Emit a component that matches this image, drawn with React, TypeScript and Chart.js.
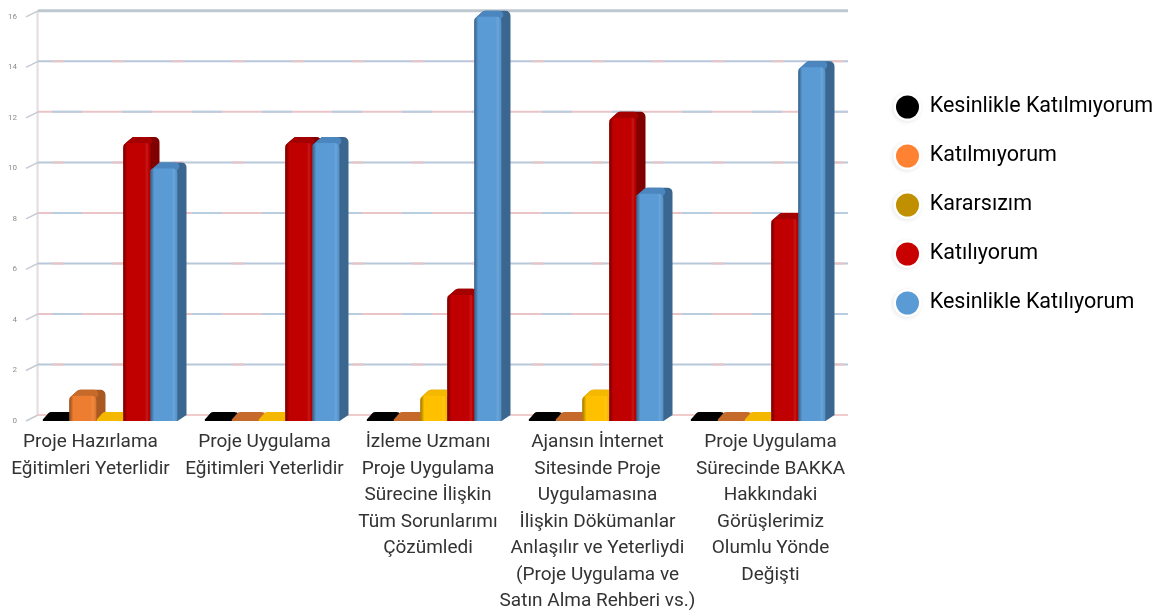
import React, { useEffect, useRef } from "react";
import { Chart, registerables } from "chart.js";

Chart.register(...registerables);

const categories: string[][] = [
  ["Proje Hazırlama", "Eğitimleri Yeterlidir"],
  ["Proje Uygulama", "Eğitimleri Yeterlidir"],
  ["İzleme Uzmanı", "Proje Uygulama", "Sürecine İlişkin", "Tüm Sorunlarımı", "Çözümledi"],
  ["Ajansın İnternet", "Sitesinde Proje", "Uygulamasına", "İlişkin Dökümanlar", "Anlaşılır ve Yeterliydi", "(Proje Uygulama ve", "Satın Alma Rehberi vs.)"],
  ["Proje Uygulama", "Sürecinde BAKKA", "Hakkındaki", "Görüşlerimiz", "Olumlu Yönde", "Değişti"],
];
const seriesNames = ["Kesinlikle Katılmıyorum", "Katılmıyorum", "Kararsızım", "Katılıyorum", "Kesinlikle Katılıyorum"];
const kesinlikleKatilmiyorum = [0, 0, 0, 0, 0];
const katilmiyorum = [1, 0, 0, 0, 0];
const kararsizim = [0, 0, 1, 1, 0];
const katiliyorum = [11, 11, 5, 12, 8];
const kesinlikleKatiliyorum = [10, 11, 16, 9, 14];
const seriesValues = [kesinlikleKatilmiyorum, katilmiyorum, kararsizim, katiliyorum, kesinlikleKatiliyorum];

const frontColors = ["#000000", "#ed7d31", "#ffc000", "#c00000", "#5b9bd5"];
const topColors = ["#000000", "#c56a2b", "#f5b800", "#a40000", "#4c86bf"];
const sideColors = ["#000000", "#a85a22", "#b38600", "#800000", "#3b668f"];
const legendColors = ["#000000", "#ff8233", "#c09000", "#c80000", "#5b9bd5"];
const labelShifts = [-19.5, -7.5, -6, 1.5, 12.5];

const FONT = "Roboto";
const DX = 9;
const DY = 6;
const LEG_PAD = 27.5;
const LEG_FONT = 21.5;
const LEG_BOX = 23;

function polyRound(ctx: CanvasRenderingContext2D, pts: number[][], radii: number[]) {
  ctx.beginPath();
  const n = pts.length;
  const last = pts[n - 1];
  ctx.moveTo((last[0] + pts[0][0]) / 2, (last[1] + pts[0][1]) / 2);
  for (let i = 0; i < n; i++) {
    const a = pts[i];
    const b = pts[(i + 1) % n];
    ctx.arcTo(a[0], a[1], (a[0] + b[0]) / 2, (a[1] + b[1]) / 2, radii[i]);
    ctx.lineTo((a[0] + b[0]) / 2, (a[1] + b[1]) / 2);
  }
  ctx.closePath();
}

const wallPlugin = {
  id: "wall",
  beforeLayout(chart: any) {
    const l = chart.legend;
    if (!l._fitPatched) {
      const fit = l.fit;
      l.fit = function () {
        fit.call(this);
        this.width = 330;
      };
      l._fitPatched = true;
    }
  },
  afterLayout(chart: any) {
    const l = chart.legend;
    const w = l.width;
    const h = l.height;
    l.left = 896 - LEG_PAD;
    l.right = l.left + w;
    l.top = 107 - LEG_PAD - LEG_FONT / 2;
    l.bottom = l.top + h;
  },
  beforeDraw(chart: any) {
    const { ctx, legend: l, scales, chartArea } = chart;
    // each category label sits a little away from its group
    scales.x.getLabelItems(chartArea).forEach((item: any, i: number) => {
      if (!item._shifted) {
        item.options.translation[0] += labelShifts[i];
        item._shifted = true;
      }
    });
    const stride = LEG_FONT + LEG_PAD;
    ctx.save();
    seriesNames.forEach((_, i) => {
      ctx.beginPath();
      ctx.arc(l.left + LEG_PAD + LEG_BOX / 2, l.top + LEG_PAD + LEG_FONT / 2 + i * stride, 14, 0, Math.PI * 2);
      ctx.shadowBlur = 4;
      ctx.shadowColor = "rgba(0,0,0,0.10)";
      ctx.shadowOffsetX = -1;
      ctx.shadowOffsetY = 1;
      ctx.fillStyle = "#ffffff";
      ctx.fill();
    });
    ctx.restore();
  },
  beforeDatasetsDraw(chart: any) {
    const { ctx, chartArea: a, scales } = chart;
    const y = scales.y;
    ctx.save();
    // left wall
    ctx.lineWidth = 1;
    ctx.strokeStyle = "#d8dde4";
    ctx.beginPath();
    ctx.moveTo(a.left + DX - 1, a.top - DY);
    ctx.lineTo(a.left + DX - 1, a.bottom - DY);
    ctx.stroke();
    ctx.strokeStyle = "#e6cdd2";
    ctx.beginPath();
    ctx.moveTo(a.left + DX, a.top - DY);
    ctx.lineTo(a.left + DX, a.bottom - DY);
    ctx.stroke();
    y.ticks.forEach((t: any, idx: number) => {
      const py = y.getPixelForValue(t.value);
      // stub
      ctx.setLineDash([]);
      ctx.strokeStyle = "#c3cad2";
      ctx.lineWidth = 1.5;
      ctx.beginPath();
      ctx.moveTo(a.left - 3, py);
      ctx.lineTo(a.left + DX, py - DY);
      ctx.stroke();
      const isTop = t.value === y.max;
      const isFloor = t.value === y.min;
      const back = py - DY;
      ctx.lineWidth = isTop ? 3 : 2;
      ctx.strokeStyle = isTop ? "#bfc8d0" : isFloor ? "#f2cccd" : idx % 2 === 0 ? "#eac4c6" : "#b8c8da";
      ctx.beginPath();
      ctx.moveTo(a.left + DX, back);
      ctx.lineTo(a.right + DX, back);
      ctx.stroke();
      if (!isTop && !isFloor) {
        ctx.strokeStyle = idx % 2 === 0 ? "#b9cde0" : "#e9c4c6";
        ctx.setLineDash(idx % 2 === 0 ? [30, 40] : [12, 48]);
        ctx.beginPath();
        ctx.moveTo(a.left + DX + 14, back);
        ctx.lineTo(a.right + DX, back);
        ctx.stroke();
        ctx.setLineDash([]);
      }
    });
    ctx.restore();
  },
  afterDatasetsDraw(chart: any) {
    const { ctx } = chart;
    ctx.save();
    chart.data.datasets.forEach((_: any, di: number) => {
      const meta = chart.getDatasetMeta(di);
      meta.data.forEach((bar: any) => {
        const p = bar.getProps(["x", "y", "width", "base"], true);
        const x0 = p.x - p.width / 2;
        const x1 = p.x + p.width / 2;
        const yb = p.base;
        const yt = p.y;
        if (yb - yt < 2) {
          // a zero value still shows a low rounded cap
          ctx.fillStyle = topColors[di];
          polyRound(
            ctx,
            [[x0 - 1, yb], [x0 + DX - 2, yb - 9], [x1 + DX, yb - 9], [x1 + DX, yb - DY], [x1, yb]],
            [1, 4, 6, 3, 0],
          );
          ctx.fill();
          return;
        }
        // silhouette of the depth in the side colour, the top face over it
        ctx.fillStyle = sideColors[di];
        polyRound(
          ctx,
          [[x0, yt + 2], [x0 + DX, yt - DY], [x1 + DX, yt - DY], [x1 + DX, yb - DY], [x1, yb], [x0, yb]],
          [2, 5, 5, 0, 0, 0],
        );
        ctx.fill();
        ctx.fillStyle = topColors[di];
        polyRound(
          ctx,
          [[x0, yt + 2], [x0 + DX, yt - DY], [x1 + DX - 3, yt - DY], [x1 - 1, yt + 3], [x0, yt + 3]],
          [2, 5, 4, 0, 0],
        );
        ctx.fill();
        bar.draw(ctx);
        // shading of the front
        const g = ctx.createLinearGradient(x0, 0, x1, 0);
        g.addColorStop(0, "rgba(0,0,0,0.38)");
        g.addColorStop(0.14, "rgba(0,0,0,0)");
        g.addColorStop(0.78, "rgba(255,255,255,0)");
        g.addColorStop(0.88, "rgba(255,255,255,0.10)");
        g.addColorStop(0.95, "rgba(0,0,0,0)");
        g.addColorStop(1, "rgba(0,0,0,0.16)");
        ctx.fillStyle = g;
        ctx.beginPath();
        ctx.roundRect(x0, yt, x1 - x0, yb - yt, [5, 5, 0, 0]);
        ctx.fill();
      });
    });
    ctx.restore();
  },
};

export default function App() {
  const ref = useRef<HTMLCanvasElement>(null);
  useEffect(() => {
    const chart = new Chart(ref.current as HTMLCanvasElement, {
      type: "bar",
      data: {
        labels: categories,
        datasets: seriesValues.map((values, i) => ({
          label: seriesNames[i],
          data: values,
          backgroundColor: frontColors[i],
          borderRadius: { topLeft: 5, topRight: 5, bottomLeft: 0, bottomRight: 0 },
          borderSkipped: false,
          barPercentage: 1,
          categoryPercentage: 135 / 162,
        })),
      },
      options: {
        responsive: false,
        animation: false,
        layout: { padding: { top: 15, left: 0, right: 0, bottom: 0 } },
        plugins: {
          title: { display: false },
          tooltip: { enabled: false },
          legend: {
            position: "right",
            align: "start",
            labels: {
              usePointStyle: true,
              pointStyle: "circle",
              pointStyleWidth: LEG_BOX,
              boxHeight: 16.3,
              padding: LEG_PAD,
              color: "#333333",
              font: { family: FONT, size: LEG_FONT },
              generateLabels: () =>
                seriesNames.map((text, i) => ({
                  text,
                  fillStyle: legendColors[i],
                  strokeStyle: legendColors[i],
                  lineWidth: 0,
                  pointStyle: "circle",
                  datasetIndex: i,
                  hidden: false,
                })),
            },
          },
        },
        scales: {
          x: {
            grid: { display: false, drawTicks: false },
            border: { display: false },
            afterFit(s: any) {
              s.height = 190;
            },
            ticks: {
              autoSkip: false,
              maxRotation: 0,
              minRotation: 0,
              padding: 8,
              color: "#333333",
              font: { family: FONT, size: 19, lineHeight: 26.5 / 19 },
            },
          },
          y: {
            min: 0,
            max: 16,
            grid: { display: false, drawTicks: false },
            border: { display: false },
            afterFit(s: any) {
              s.width = 29;
            },
            ticks: {
              stepSize: 2,
              padding: 12,
              color: "#8c8c8c",
              font: { family: FONT, size: 8 },
            },
          },
        },
      },
      plugins: [wallPlugin],
    } as any);
    return () => chart.destroy();
  }, []);
  return (
    <div style={{ position: "fixed", left: 0, top: 0, width: 1169, height: 611, background: "#fff" }}>
      <canvas ref={ref} width={1169} height={611} style={{ display: "block" }} />
    </div>
  );
}
